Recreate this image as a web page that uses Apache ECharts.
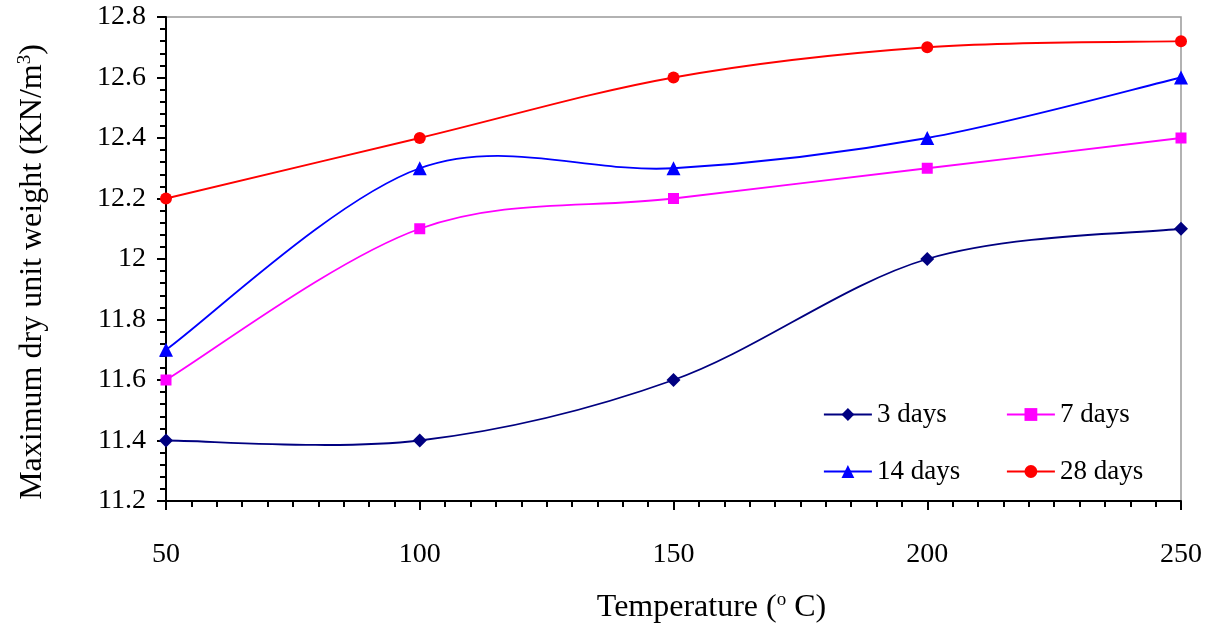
<!DOCTYPE html>
<html>
<head>
<meta charset="utf-8">
<title>Maximum dry unit weight</title>
<script src="https://cdn.jsdelivr.net/npm/echarts@6/dist/echarts.min.js"></script>
<style>
html, body { margin: 0; padding: 0; background: #fff; }
#main { width: 1213px; height: 630px; }
</style>
</head>
<body>
<div id="main"></div>
<script>
// temperatures (deg C) and max dry unit weight (KN/m3) per curing age
var temps = [50, 100, 150, 200, 250];
var days3 = [11.4, 11.4, 11.6, 12.0, 12.1];
var days7 = [11.6, 12.1, 12.2, 12.3, 12.4];
var days14 = [11.7, 12.3, 12.3, 12.4, 12.6];
var days28 = [12.2, 12.4, 12.6, 12.7, 12.72];

var FONT = 'Liberation Serif';

function pairs(vals) {
	var out = [];
	for (var i = 0; i < temps.length; i++) {
		out.push([temps[i], vals[i]]);
	}
	return out;
}

// excel style smoothed line: catmull-rom segment i -> i+1, in pixel space
function curve(vals, color) {
	return {
		type: 'custom',
		data: pairs(vals),
		encode: { x: 0, y: 1 },
		silent: true,
		animation: false,
		z: 1,
		renderItem: function (params, api) {
			var i = params.dataIndex;
			var n = temps.length;
			if (i >= n - 1) return null;
			var p = function (k) {
				k = Math.max(0, Math.min(n - 1, k));
				return api.coord([temps[k], vals[k]]);
			};
			var p0 = p(i - 1), p1 = p(i), p2 = p(i + 1), p3 = p(i + 2);
			return {
				type: 'bezierCurve',
				shape: {
					x1: p1[0], y1: p1[1],
					x2: p2[0], y2: p2[1],
					cpx1: p1[0] + (p2[0] - p0[0]) / 6,
					cpy1: p1[1] + (p2[1] - p0[1]) / 6,
					cpx2: p2[0] - (p3[0] - p1[0]) / 6,
					cpy2: p2[1] - (p3[1] - p1[1]) / 6
				},
				style: { stroke: color, lineWidth: 1.8, fill: null }
			};
		}
	};
}

function marks(name, vals, color, symbol, size) {
	return {
		name: name,
		type: 'line',
		data: pairs(vals),
		symbol: symbol,
		symbolSize: size,
		showSymbol: true,
		lineStyle: { color: color, width: 1.8, opacity: 0 },
		itemStyle: { color: color },
		emphasis: { disabled: true },
		z: 3,
		animation: false
	};
}

var chart = echarts.init(document.getElementById('main'));

var legendCommon = {
	orient: 'vertical',
	itemWidth: 48,
	itemHeight: 16,
	itemGap: 30,
	lineStyle: { opacity: 1, width: 1.8 },
	textStyle: { fontFamily: FONT, fontSize: 27, color: '#000' }
};

var option = {
	backgroundColor: '#fff',
	grid: {
		left: 166, right: 32, top: 17, bottom: 117,
		show: true, borderColor: '#999', borderWidth: 1.5
	},
	legend: [
		Object.assign({ left: 818, top: 396, data: ['3 days', '14 days'] }, legendCommon),
		Object.assign({ left: 1001, top: 396, data: ['7 days', '28 days'] }, legendCommon)
	],
	xAxis: {
		type: 'value',
		min: 50, max: 250, interval: 50,
		name: 'Temperature ({sup|o} C)',
		nameLocation: 'middle',
		nameGap: 90,
		nameTextStyle: {
			fontFamily: FONT, fontSize: 32, color: '#000', lineHeight: 34,
			padding: [0, 0, 0, 76],
			rich: { sup: { fontFamily: FONT, fontSize: 19, lineHeight: 19, verticalAlign: 'top', color: '#000' } }
		},
		axisLine: { lineStyle: { color: '#000', width: 2 } },
		axisTick: { show: true, length: 9, lineStyle: { color: '#000', width: 2 } },
		minorTick: { show: true, splitNumber: 10, length: 6, lineStyle: { color: '#000', width: 2 } },
		splitLine: { show: false },
		axisLabel: { fontFamily: FONT, fontSize: 28, color: '#000', margin: 40 }
	},
	yAxis: {
		type: 'value',
		min: 11.2, max: 12.8, interval: 0.2,
		name: 'Maximum dry unit weight (KN/m{sup|3})',
		nameLocation: 'middle',
		nameGap: 116,
		nameTextStyle: {
			fontFamily: FONT, fontSize: 32, color: '#000', lineHeight: 34,
			padding: [0, 26, 0, 0],
			rich: { sup: { fontFamily: FONT, fontSize: 19, lineHeight: 19, verticalAlign: 'top', color: '#000' } }
		},
		axisLine: { show: true, lineStyle: { color: '#000', width: 2 } },
		axisTick: { show: true, length: 9, lineStyle: { color: '#000', width: 2 } },
		minorTick: { show: true, splitNumber: 5, length: 6, lineStyle: { color: '#000', width: 2 } },
		splitLine: { show: false },
		axisLabel: { fontFamily: FONT, fontSize: 28, color: '#000', margin: 20 }
	},
	series: [
		curve(days3, '#000080'),
		curve(days7, '#FF00FF'),
		curve(days14, '#0000FF'),
		curve(days28, '#FF0000'),
		marks('3 days', days3, '#000080', 'diamond', 14),
		marks('7 days', days7, '#FF00FF', 'rect', 11),
		marks('14 days', days14, '#0000FF', 'triangle', 14),
		marks('28 days', days28, '#FF0000', 'circle', 12)
	]
};

chart.setOption(option);
</script>
</body>
</html>
